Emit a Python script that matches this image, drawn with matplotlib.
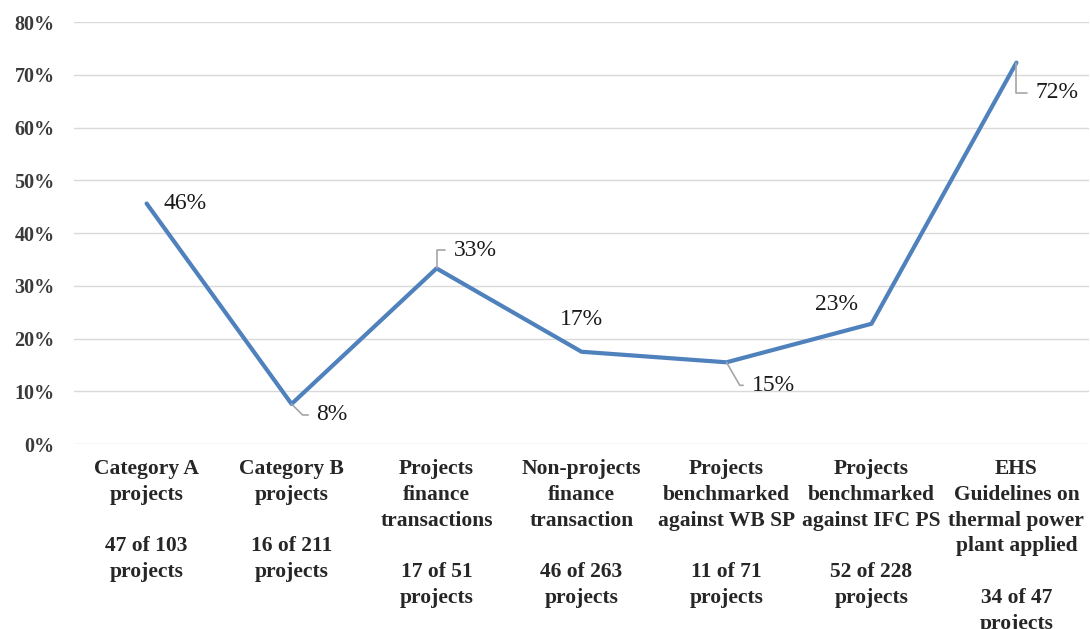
import numpy as np
import matplotlib
matplotlib.use("Agg")
import matplotlib.pyplot as plt

# data
categories = [
    "Category A\nprojects",
    "Category B\nprojects",
    "Projects\nfinance\ntransactions",
    "Non-projects\nfinance\ntransaction",
    "Projects\nbenchmarked\nagainst WB SP",
    "Projects\nbenchmarked\nagainst IFC PS",
    "EHS\nGuidelines on\nthermal power\nplant applied",
]
counts = ["47 of 103", "16 of 211", "17 of 51", "46 of 263", "11 of 71", "52 of 228", "34 of 47"]
values = [45.6, 7.6, 33.3, 17.5, 15.5, 22.8, 72.3]
value_labels = ["46%", "8%", "33%", "17%", "15%", "23%", "72%"]
y_ticks = [0, 10, 20, 30, 40, 50, 60, 70, 80]

# label placement: (dx, dy) in pixels, horizontal align, leader angle at point (None = no leader)
label_style = [
    ((17, 0), "left", None),
    ((25, -11), "left", -45),
    ((17, 18), "left", 90),
    ((0, 32), "center", None),
    ((25, -23), "left", -60),
    ((-35, 19), "center", None),
    ((19, -30), "left", 90),
]

plt.rcParams["font.family"] = ["Liberation Serif", "DejaVu Serif"]

fig = plt.figure(figsize=(10.9, 6.29), dpi=100)
ax = fig.add_axes([0.068, 0.294, 0.931, 0.671])

x = np.arange(len(values))
ax.plot(x, values, color="#4f81bd", lw=3.0, solid_capstyle="round", zorder=3)

for xi, v, lab, (off, ha, ang) in zip(x, values, value_labels, label_style):
    kw = {}
    if ang is not None:
        kw["arrowprops"] = dict(arrowstyle="-", color="#a6a6a6", lw=1.2,
                                connectionstyle=f"angle,angleA=0,angleB={ang},rad=0",
                                relpos=(0, 0.5), shrinkA=4, shrinkB=0)
    ax.annotate(lab, xy=(xi, v), xytext=off, textcoords="offset pixels",
                ha=ha, va="center", fontsize=17, color="#1a1a1a", **kw)

ax.set_xlim(-0.5, len(values) - 0.5)
ax.set_ylim(0, 80)
ax.set_yticks(y_ticks)
ax.set_yticklabels([f"{t}%" for t in y_ticks], fontsize=14.5, fontweight="bold", color="#3a3a3a")
ax.set_xticks(x)
ax.set_xticklabels([f"{c}\n\n{n}\nprojects" for c, n in zip(categories, counts)],
                   fontsize=15.5, fontweight="bold", color="#262626")
for t in ax.get_xticklabels():
    t.set_linespacing(1.38)
    t.set_verticalalignment("top")

ax.tick_params(axis="both", length=0)
ax.tick_params(axis="x", pad=11)
ax.tick_params(axis="y", pad=14)
ax.grid(axis="y", color="#d9d9d9", lw=1)
ax.set_axisbelow(True)
for s in ax.spines.values():
    s.set_visible(False)

fig.savefig("out.png", dpi=100)
